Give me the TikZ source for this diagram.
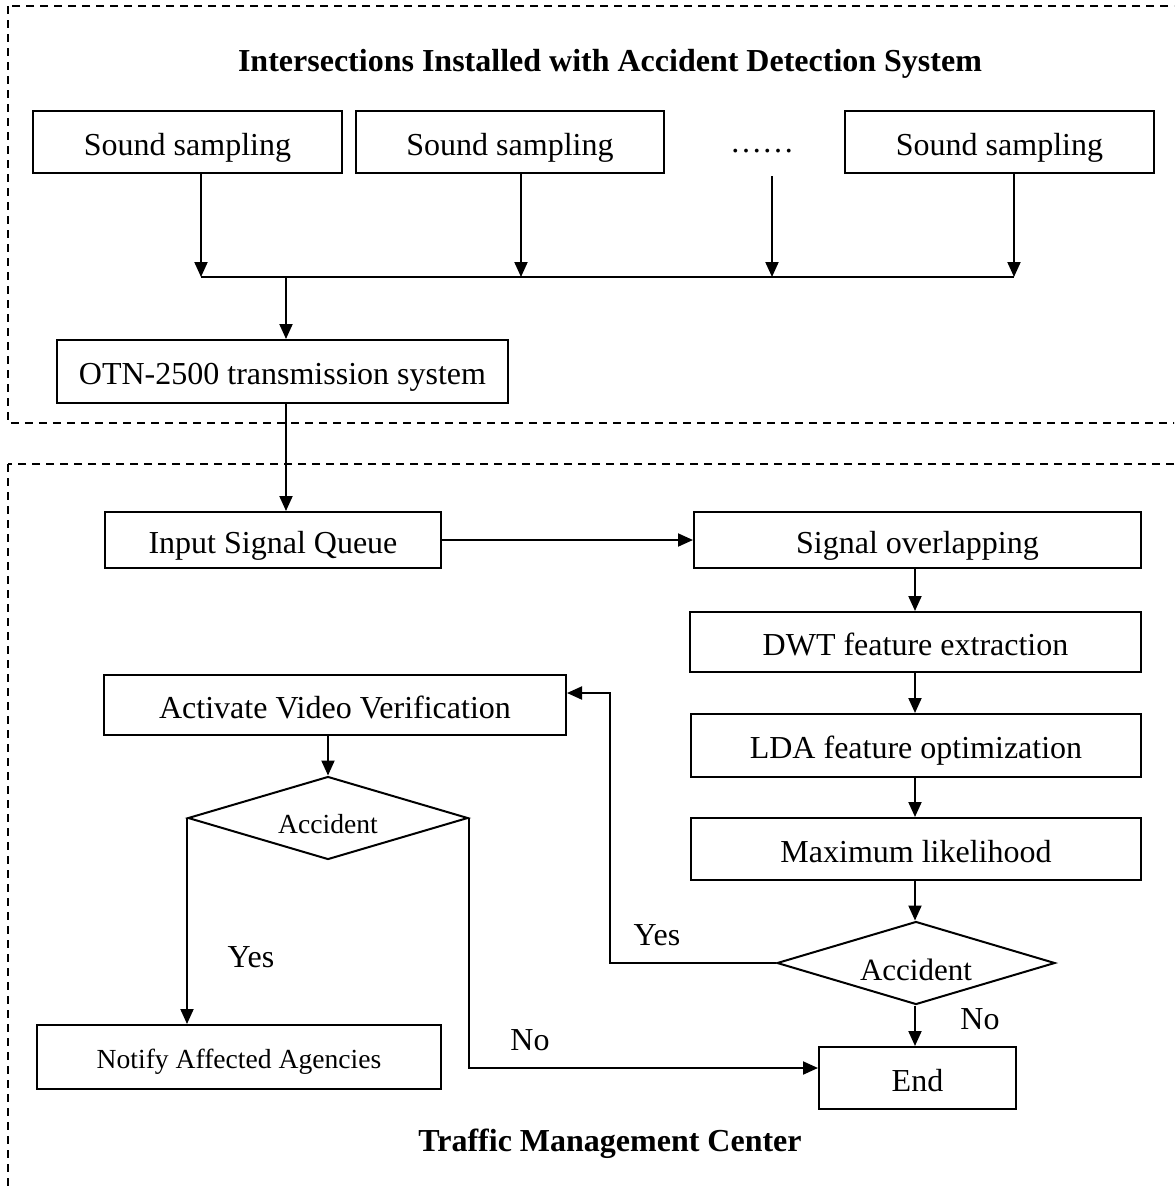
\documentclass[tikz,border=0pt]{standalone}
\usepackage{fontspec}
\setmainfont{Liberation Serif}
\usetikzlibrary{arrows.meta,shapes.geometric}
\begin{document}
\begin{tikzpicture}[x=0.5pt,y=-0.5pt,
  box/.style={draw,line width=1pt,inner sep=0pt,text height=13pt,text depth=0pt,font=\fontsize{16}{19}\selectfont},
  dia/.style={draw,shape=diamond,line width=1pt,inner sep=0pt,aspect=3.35,text depth=0pt},
  arr/.style={line width=1pt,-{Triangle[length=7.5pt,width=6.5pt]}},
  ln/.style={line width=1pt},
  frame/.style={line width=1pt,dash pattern=on 4pt off 3pt},
  lbl/.style={font=\fontsize{16}{19}\selectfont,inner sep=0pt},
  ttl/.style={font=\fontsize{16}{19}\selectfont\bfseries,inner sep=0pt}]
\useasboundingbox (0,0) rectangle (1174,1190);
\clip (0,0) rectangle (1174,1190);
% frames
\draw[frame] (8,6) rectangle (1200,423);
\draw[frame] (8,464) rectangle (1200,1220);
% titles
\node[ttl] (t1) at (610,64) {Intersections Installed with Accident Detection System};
\node[ttl] (t2) at (610,1144) {Traffic Management Center};
% top row
\node[box,minimum width=154.5pt,minimum height=31pt] (ss1) at (187.5,142) {Sound sampling};
\node[box,minimum width=154pt,minimum height=31pt] (ss2) at (510,142) {Sound sampling};
\node[lbl,anchor=base] (dots) at (762,152) {……};
\node[box,minimum width=154.5pt,minimum height=31pt] (ss4) at (999.5,142) {Sound sampling};
\coordinate (b1) at (201,277);
\coordinate (b2) at (521,277);
\coordinate (b3) at (772,277);
\coordinate (b4) at (1014,277);
\coordinate (bo) at (286,277);
\coordinate (d3) at (772,176);
\draw[arr] (ss1.south -| b1) -- (b1);
\draw[arr] (ss2.south -| b2) -- (b2);
\draw[arr] (d3) -- (b3);
\draw[arr] (ss4.south -| b4) -- (b4);
\draw[ln] (b1) -- (b4);
\node[box,minimum width=225.5pt,minimum height=31.5pt] (otn) at (282.5,371.5) {OTN-2500 transmission system};
\draw[arr] (bo) -- (bo |- otn.north);
% lower part
\node[box,minimum width=168pt,minimum height=28pt] (isq) at (273,540) {Input Signal Queue};
\draw[arr] (otn.south -| bo) -- (bo |- isq.north);
\node[box,minimum width=223.5pt,minimum height=28pt] (so) at (917.5,540) {Signal overlapping};
\draw[arr] (isq.east) -- (so.west);
\node[box,minimum width=225.5pt,minimum height=30pt] (dwt) at (915.5,642) {DWT feature extraction};
\node[box,minimum width=225pt,minimum height=31.5pt] (lda) at (916,745.5) {LDA feature optimization};
\node[box,minimum width=225pt,minimum height=31pt] (ml) at (916,849) {Maximum likelihood};
\node[dia,minimum width=139pt,minimum height=41.5pt,text height=17pt,font=\fontsize{15.5}{18}\selectfont] (dr) at (916,963) {Accident};
\node[box,minimum width=98.5pt,minimum height=31pt] (end) at (917.5,1078) {End};
\draw[arr] (so.south -| 915,0) -- (dwt.north -| 915,0);
\draw[arr] (dwt.south -| 915,0) -- (lda.north -| 915,0);
\draw[arr] (lda.south -| 915,0) -- (ml.north -| 915,0);
\draw[arr] (ml.south -| 915,0) -- (dr.north -| 915,0);
\draw[arr] (dr.south -| 915,0) -- (end.north -| 915,0);
\node[box,minimum width=231pt,minimum height=30pt] (act) at (335,705) {Activate Video Verification};
\node[dia,minimum width=140pt,minimum height=41.5pt,text height=15pt,font=\fontsize{13.8}{16}\selectfont] (dl) at (328,818) {Accident};
\node[box,minimum width=202pt,minimum height=32pt,text height=11pt,font=\fontsize{13.8}{16}\selectfont] (nt) at (239,1057) {Notify Affected Agencies};
\draw[arr] (dr.west) -| (610,693) -- (act.east |- 0,693);
\draw[arr] (dl.north |- act.south) -- (dl.north);
\draw[arr] (dl.west) -- (dl.west |- nt.north);
\draw[arr] (dl.east) -- (dl.east |- 0,1068) -- (end.west |- 0,1068);
% labels
\node[lbl] (y1) at (657,935) {Yes};
\node[lbl] (n1) at (980,1019) {No};
\node[lbl] (y2) at (251,957) {Yes};
\node[lbl] (n2) at (530,1040) {No};
\end{tikzpicture}
\end{document}
